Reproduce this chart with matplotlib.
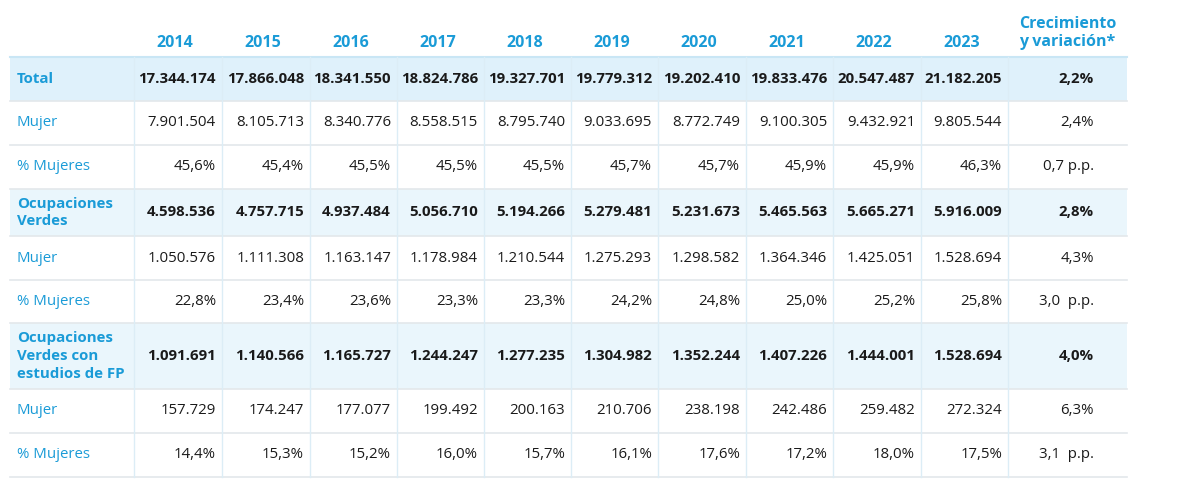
import matplotlib.pyplot as plt
from matplotlib.patches import Rectangle

plt.rcParams['font.family'] = ['Open Sans', 'DejaVu Sans']

years = ['2014', '2015', '2016', '2017', '2018', '2019', '2020', '2021', '2022', '2023']
row_labels = ['Total', 'Mujer', '% Mujeres',
              'Ocupaciones\nVerdes', 'Mujer', '% Mujeres',
              'Ocupaciones\nVerdes con\nestudios de FP', 'Mujer', '% Mujeres']

total = ['17.344.174', '17.866.048', '18.341.550', '18.824.786', '19.327.701',
         '19.779.312', '19.202.410', '19.833.476', '20.547.487', '21.182.205']
total_mujer = ['7.901.504', '8.105.713', '8.340.776', '8.558.515', '8.795.740',
               '9.033.695', '8.772.749', '9.100.305', '9.432.921', '9.805.544']
total_pct = ['45,6%', '45,4%', '45,5%', '45,5%', '45,5%',
             '45,7%', '45,7%', '45,9%', '45,9%', '46,3%']
verdes = ['4.598.536', '4.757.715', '4.937.484', '5.056.710', '5.194.266',
          '5.279.481', '5.231.673', '5.465.563', '5.665.271', '5.916.009']
verdes_mujer = ['1.050.576', '1.111.308', '1.163.147', '1.178.984', '1.210.544',
                '1.275.293', '1.298.582', '1.364.346', '1.425.051', '1.528.694']
verdes_pct = ['22,8%', '23,4%', '23,6%', '23,3%', '23,3%',
              '24,2%', '24,8%', '25,0%', '25,2%', '25,8%']
fp = ['1.091.691', '1.140.566', '1.165.727', '1.244.247', '1.277.235',
      '1.304.982', '1.352.244', '1.407.226', '1.444.001', '1.528.694']
fp_mujer = ['157.729', '174.247', '177.077', '199.492', '200.163',
            '210.706', '238.198', '242.486', '259.482', '272.324']
fp_pct = ['14,4%', '15,3%', '15,2%', '16,0%', '15,7%',
          '16,1%', '17,6%', '17,2%', '18,0%', '17,5%']
crecimiento = ['2,2%', '2,4%', '0,7 p.p.', '2,8%', '4,3%', '3,0  p.p.', '4,0%', '6,3%', '3,1  p.p.']

rows = [total, total_mujer, total_pct, verdes, verdes_mujer, verdes_pct, fp, fp_mujer, fp_pct]
bold_rows = [0, 3, 6]
row_bg = {0: '#dff1fb', 3: '#eaf6fc', 6: '#eaf6fc'}

# layout (pixels)
W, H = 1180, 487
row_edges = [57, 101, 145, 189, 236, 280, 323, 389, 433, 477]
col_edges = [10, 134, 222, 310, 397, 484, 571, 658, 746, 833, 921, 1008, 1127]

blue = '#1a9bd7'
dark = '#1a1a1a'
fs = 10.8

fig = plt.figure(figsize=(W / 100, H / 100), dpi=100)
ax = fig.add_axes([0, 0, 1, 1])
ax.set_xlim(0, W)
ax.set_ylim(H, 0)
ax.axis('off')

# fondos de filas destacadas
for i, c in row_bg.items():
    ax.add_patch(Rectangle((col_edges[0], row_edges[i]), col_edges[-1] - col_edges[0],
                           row_edges[i + 1] - row_edges[i], facecolor=c, edgecolor='none', zorder=0))

# lineas horizontales
for k, y in enumerate(row_edges):
    if k == 0:
        ax.plot([col_edges[0], col_edges[-1]], [y, y], color='#c9e6f5', lw=1.5, zorder=1)
    else:
        ax.plot([col_edges[0], col_edges[-1]], [y, y], color='#e3e8eb', lw=1.2, zorder=1)

# lineas verticales
for x in col_edges[1:-1]:
    ax.plot([x, x], [row_edges[0], row_edges[-1]], color='#dcedf6', lw=1.0, zorder=1)

# cabecera
for j, yr in enumerate(years):
    xc = (col_edges[j + 1] + col_edges[j + 2]) / 2 - 3
    ax.text(xc, 43, yr, ha='center', va='center', color=blue, fontsize=11.5, fontweight='bold')
ax.text(1019, 33, 'Crecimiento\ny variación*', ha='left', va='center', color=blue,
        fontsize=11.5, fontweight='bold', linespacing=1.25)

# filas
for i, label in enumerate(row_labels):
    yc = (row_edges[i] + row_edges[i + 1]) / 2
    bold = i in bold_rows
    fw = 'bold' if bold else 'normal'
    ax.text(17, yc, label, ha='left', va='center', color=blue, fontsize=fs,
            fontweight=fw, linespacing=1.35)
    for j, val in enumerate(rows[i]):
        ax.text(col_edges[j + 2] - 6, yc, val, ha='right', va='center', color=dark,
                fontsize=fs, fontweight=fw)
    ax.text(1094, yc, crecimiento[i], ha='right', va='center', color=dark,
            fontsize=fs, fontweight=fw)

fig.savefig('out.png', dpi=100, facecolor='white')
